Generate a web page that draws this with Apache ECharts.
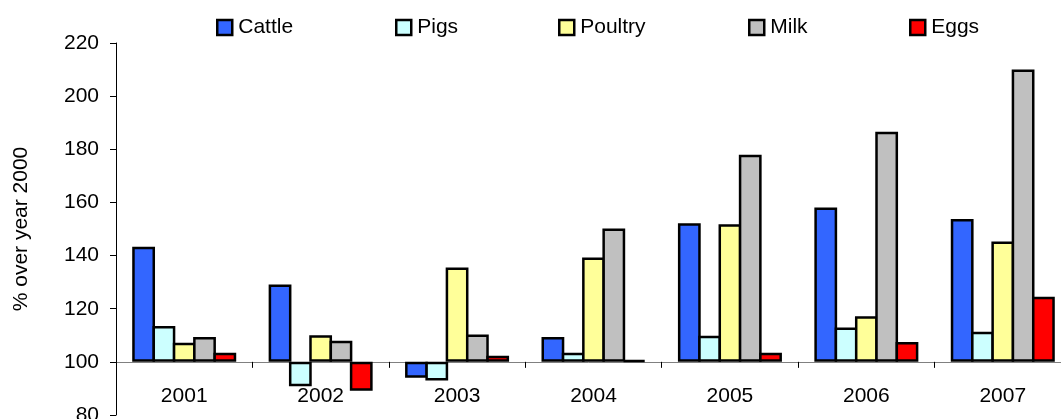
<!DOCTYPE html>
<html>
<head>
<meta charset="utf-8">
<script src="https://cdn.jsdelivr.net/npm/echarts@6/dist/echarts.min.js"></script>
<style>
  html, body { margin: 0; padding: 0; background: #fff; }
  #chart { width: 1061px; height: 419px; }
</style>
</head>
<body>
<div id="chart"></div>
<script>
const years = ['2001', '2002', '2003', '2004', '2005', '2006', '2007']
const seriesNames = ['Cattle', 'Pigs', 'Poultry', 'Milk', 'Eggs']
const cattle = [143.3, 129.1, 94.0, 109.4, 152.2, 158.1, 153.8]
const pigs = [113.5, 90.8, 93.0, 103.4, 109.8, 112.9, 111.3]
const poultry = [107.2, 110.0, 135.5, 139.3, 151.8, 117.2, 145.3]
const milk = [109.4, 107.9, 110.3, 150.2, 177.9, 186.6, 210.0]
const eggs = [103.4, 89.1, 102.3, 100.6, 103.4, 107.5, 124.5]
const yTicks = [80, 100, 120, 140, 160, 180, 200, 220]

// bars hang from the 100 line, so plot everything relative to the base year
const base = 100
const colors = ['#3366ff', '#ccffff', '#ffff99', '#c0c0c0', '#ff0000']
const values = [cattle, pigs, poultry, milk, eggs]
const legendLeft = [216, 395, 558, 748, 909]
const font = 'Liberation Sans, Arial, sans-serif'

const gridTop = 43
const gridBottom = 4
const plotHeight = 419 - gridTop - gridBottom
const yMin = yTicks[0]
const yMax = yTicks[yTicks.length - 1]
// lift the category axis from the bottom edge up to the 100 line
const axisLift = (base - yMin) / (yMax - yMin) * plotHeight

// neighbouring bars share one border line
const border = 2.5
const barW = 22.8

const chart = echarts.init(document.getElementById('chart'))

chart.setOption({
  animation: false,
  backgroundColor: '#fff',
  textStyle: { fontFamily: font },
  legend: seriesNames.map((name, i) => ({
    data: [name],
    left: legendLeft[i],
    top: 17,
    icon: 'rect',
    itemWidth: 15,
    itemHeight: 15,
    padding: 0,
    itemStyle: { borderColor: '#000', borderWidth: 2.5 },
    textStyle: { fontSize: 21, color: '#000', fontFamily: font, padding: [0, 0, 0, 1] }
  })),
  grid: { left: 116, right: -10, top: gridTop, bottom: gridBottom, outerBoundsMode: 'none', containLabel: false },
  xAxis: {
    type: 'category',
    data: years,
    offset: -axisLift,
    axisLine: { onZero: false, lineStyle: { color: '#808080', width: 1 } },
    axisTick: { show: true, length: 6, inside: false, lineStyle: { color: '#000' } },
    axisLabel: { color: '#000', fontSize: 21, margin: 24 }
  },
  yAxis: {
    type: 'value',
    min: yMin - base,
    max: yMax - base,
    interval: 20,
    name: '% over year 2000',
    nameLocation: 'middle',
    nameGap: 84,
    nameTextStyle: { fontSize: 21, color: '#000', fontFamily: font },
    axisLine: { show: true, lineStyle: { color: '#000', width: 1 } },
    axisTick: { show: true, length: 6, lineStyle: { color: '#000' } },
    axisLabel: { color: '#000', fontSize: 21, margin: 17, formatter: (v) => String(v + base) },
    splitLine: { show: false }
  },
  series: seriesNames.map((name, i) => ({
    name: name,
    type: 'bar',
    barGap: (-border / barW * 100).toFixed(2) + '%',
    barWidth: barW,
    data: values[i].map((v) => +(v - base).toFixed(1)),
    itemStyle: { color: colors[i], borderColor: '#000', borderWidth: border }
  }))
})
</script>
</body>
</html>
